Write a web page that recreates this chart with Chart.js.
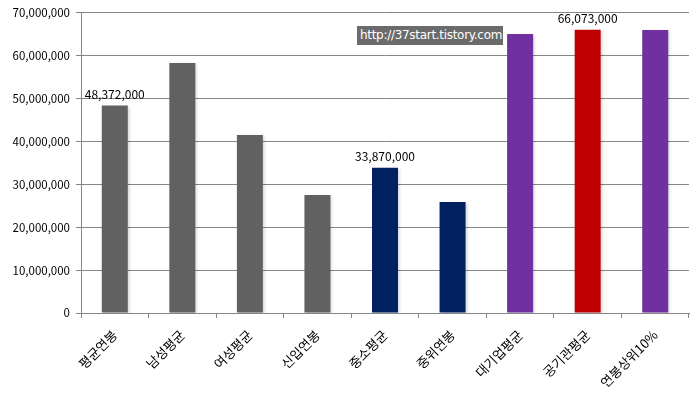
<!DOCTYPE html>
<html>
<head>
<meta charset="utf-8">
<script src="https://cdn.jsdelivr.net/npm/chart.js@4"></script>
<style>
body { margin: 0; background: #fff; }
#wrap { position: relative; width: 692px; height: 398px; }
#mark { position: absolute; left: 357px; top: 26px; width: 146px; height: 19px; background: #6b6b6b; color: #fff;
  font: 12px "DejaVu Sans", sans-serif; line-height: 19px; padding-left: 3px; box-sizing: border-box; white-space: nowrap; letter-spacing: -0.3px; }
</style>
</head>
<body>
<div id="wrap">
<canvas id="myChart" width="692" height="398"></canvas>
<div id="mark">http://37start.tistory.com</div>
</div>
<script>
var labels = ['평균연봉', '남성평균', '여성평균', '신입연봉', '중소평균', '중위연봉', '대기업평균', '공기관평균', '연봉상위10%']
var salary = [48372000, 58300000, 41500000, 27500000, 33870000, 25900000, 65100000, 66073000, 66000000]
var barColors = ['#616161', '#616161', '#616161', '#616161', '#002060', '#002060', '#7030a0', '#c00000', '#7030a0']
//only these bars get a value on top
var shownValues = [0, 4, 7]
var yTicks = [0, 10000000, 20000000, 30000000, 40000000, 50000000, 60000000, 70000000]

var fontFamily = '"Noto Sans CJK KR", "DejaVu Sans", sans-serif'

function fmt(v){
    return v.toLocaleString('en-US')
}

var valueLabels = {
    id: 'valueLabels',
    afterDatasetsDraw: function(chart){
        var ctx = chart.ctx
        var meta = chart.getDatasetMeta(0)
        ctx.save()
        ctx.font = '12px ' + fontFamily
        ctx.fillStyle = '#000'
        ctx.textAlign = 'center'
        ctx.textBaseline = 'bottom'
        for (i = 0; i < shownValues.length; i++) {
            var bar = meta.data[shownValues[i]]
            ctx.fillText(fmt(salary[shownValues[i]]), bar.x, bar.y - 5)
        }
        ctx.restore()
    }
}

var barShadow = {
    id: 'barShadow',
    beforeDatasetsDraw: function(chart){
        var ctx = chart.ctx
        ctx.save()
        ctx.shadowColor = 'rgba(0,0,0,0.16)'
        ctx.shadowBlur = 3
        ctx.shadowOffsetX = 2
        ctx.shadowOffsetY = 1
    },
    afterDatasetsDraw: function(chart){
        chart.ctx.restore()
    }
}

function buildGraph(){
    var ctx = document.getElementById('myChart').getContext('2d')
    var chart = new Chart(ctx, {
        type: 'bar',
        data: {
            labels: labels,
            datasets: [{
                data: salary,
                backgroundColor: barColors,
                barPercentage: 0.385,
                categoryPercentage: 1
            }]
        },
        plugins: [barShadow, valueLabels],
        options: {
            responsive: false,
            animation: false,
            layout: { padding: { top: 7, right: 3, left: 0, bottom: 0 } },
            plugins: { legend: { display: false }, tooltip: { enabled: false } },
            scales: {
                y: {
                    min: 0,
                    max: 70000000,
                    afterBuildTicks: function(axis){
                        axis.ticks = yTicks.map(function(v){ return { value: v } })
                    },
                    afterFit: function(axis){ axis.width = 81 },
                    border: { color: '#868686', width: 1 },
                    grid: { color: '#868686', tickLength: 5, lineWidth: 1 },
                    ticks: {
                        color: '#000',
                        padding: 6,
                        font: { family: fontFamily, size: 11.5 },
                        callback: function(v){ return fmt(v) }
                    }
                },
                x: {
                    afterFit: function(axis){ axis.height = 85 },
                    border: { color: '#868686', width: 1 },
                    grid: { drawOnChartArea: false, offset: true, color: '#868686', tickLength: 5 },
                    ticks: {
                        color: '#000',
                        maxRotation: 45,
                        minRotation: 45,
                        padding: 9,
                        font: { family: fontFamily, size: 13 }
                    }
                }
            }
        }
    })
}

buildGraph()
</script>
</body>
</html>
